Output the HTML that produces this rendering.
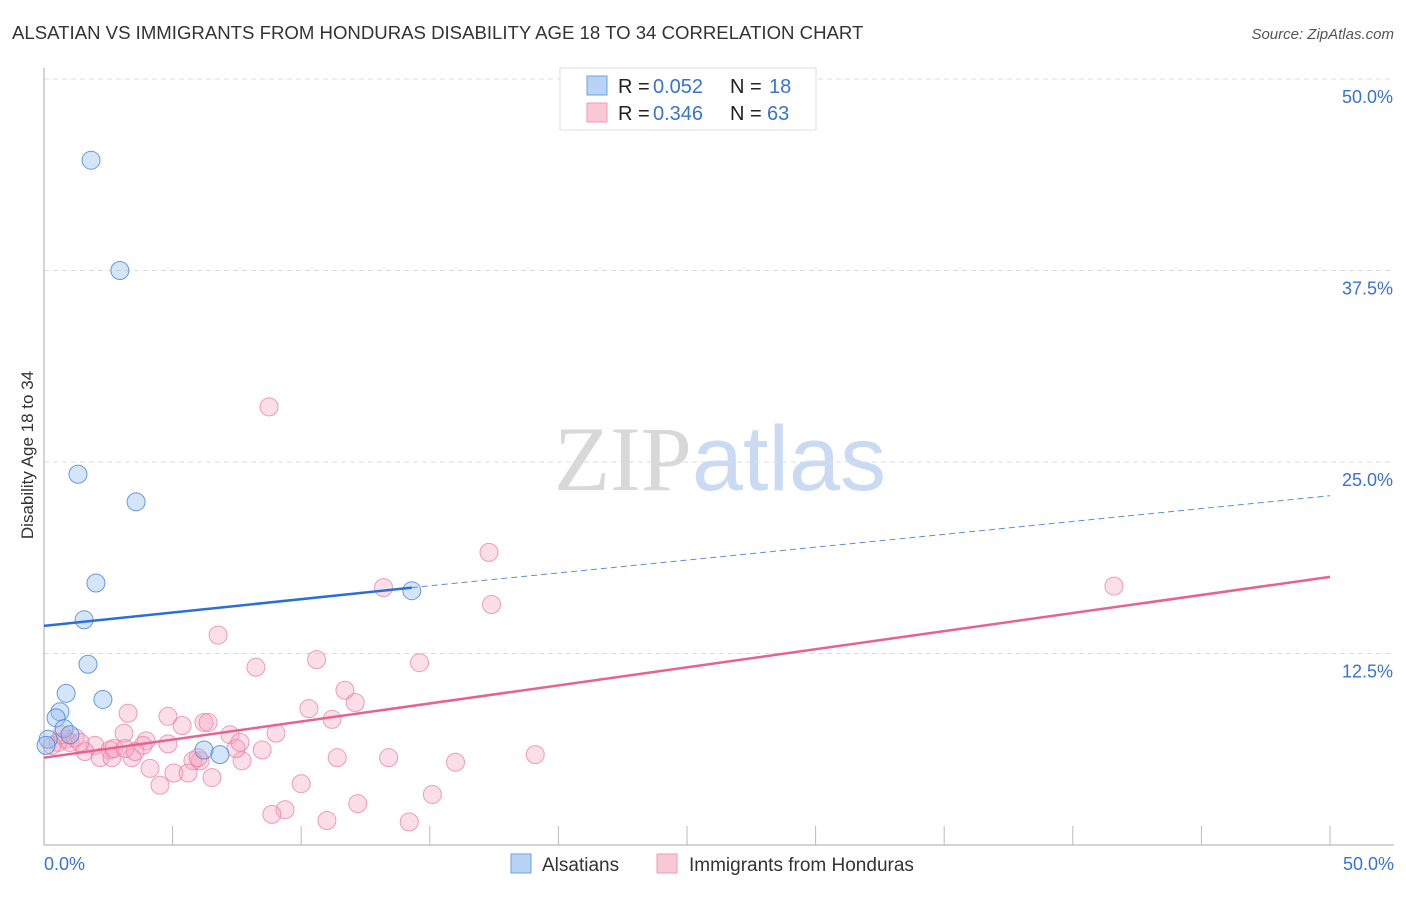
<!DOCTYPE html>
<html><head><meta charset="utf-8"><style>
body{margin:0;background:#fff;font-family:"Liberation Sans",sans-serif}
svg text{font-family:"Liberation Sans",sans-serif}
</style></head><body>
<svg id="chart" width="1406" height="892" viewBox="0 0 1406 892">
<text x="12" y="39" font-size="18.6" fill="#333">ALSATIAN VS IMMIGRANTS FROM HONDURAS DISABILITY AGE 18 TO 34 CORRELATION CHART</text>
<text x="1394" y="39" font-size="15" fill="#555" text-anchor="end" font-style="italic">Source: ZipAtlas.com</text>
<text x="720" y="490" font-size="92" text-anchor="middle"><tspan fill="#d8d8d8" font-family="Liberation Serif">ZIP</tspan><tspan fill="#c9daf2">atlas</tspan></text>
<g id="grid"></g>
<g id="axes"></g>
<g id="marks"></g>
<text transform="translate(33,455) rotate(-90)" font-size="17" fill="#333" text-anchor="middle">Disability Age 18 to 34</text>
<g>
<rect x="560" y="68" width="256" height="62" fill="#fff" stroke="#ddd"/>
<rect x="587" y="76" width="20" height="19" fill="#b8d3f5" stroke="#6fa0e0"/>
<rect x="587" y="103" width="20" height="19" fill="#f9c8d6" stroke="#ee9ab3"/>
<text x="618" y="93" font-size="20" fill="#222">R =</text>
<text x="653" y="93" font-size="20" fill="#3a72d1">0.052</text>
<text x="730" y="93" font-size="20" fill="#222">N =</text>
<text x="769" y="93" font-size="20" fill="#3a72d1">18</text>
<text x="618" y="120" font-size="20" fill="#222">R =</text>
<text x="653" y="120" font-size="20" fill="#3a72d1">0.346</text>
<text x="730" y="120" font-size="20" fill="#222">N =</text>
<text x="767" y="120" font-size="20" fill="#3a72d1">63</text>
</g>
<g>
<rect x="511" y="854" width="20" height="19" fill="#b8d3f5" stroke="#6fa0e0"/>
<text x="542" y="871" font-size="19" fill="#333">Alsatians</text>
<rect x="657" y="854" width="20" height="19" fill="#f9c8d6" stroke="#ee9ab3"/>
<text x="689" y="871" font-size="19" fill="#333">Immigrants from Honduras</text>
</g>
</svg>
<script>
const yTicks=[12.5,25,37.5,50];
const yTickLabels=["12.5%","25.0%","37.5%","50.0%"];
const xTickLabels=["0.0%","50.0%"];
const blueX=[1.83,2.95,1.32,3.58,2.02,1.56,1.71,0.86,0.62,0.47,2.29,0.78,1.01,0.16,0.08,6.22,6.84,14.3];
const blueY=[44.7,37.5,24.2,22.4,17.1,14.7,11.8,9.9,8.7,8.3,9.5,7.6,7.2,6.9,6.5,6.2,5.9,16.6];
const pinkX=[8.75,17.3,13.2,41.6,17.4,6.77,10.6,14.6,8.24,11.7,12.1,10.3,3.27,4.82,5.37,6.22,6.38,11.2,7.23,9.02,3.11,3.97,4.82,3.85,1.98,2.57,1.59,2.18,3.42,2.64,6.07,5.79,7.70,7.47,8.48,11.4,13.4,16.0,19.1,4.12,5.05,5.60,6.53,4.51,10.0,12.2,15.1,9.37,8.86,11.0,14.2,0.86,1.01,0.54,0.31,1.21,1.40,0.70,2.72,3.15,3.54,5.99,7.62];
const pinkY=[28.6,19.1,16.8,16.9,15.7,13.7,12.1,11.9,11.6,10.1,9.3,8.9,8.6,8.4,7.8,8.0,8.0,8.2,7.2,7.3,7.3,6.8,6.6,6.5,6.5,6.2,6.1,5.7,5.7,5.7,5.5,5.5,5.5,6.3,6.2,5.7,5.7,5.4,5.9,5.0,4.7,4.7,4.4,3.9,4.0,2.7,3.3,2.3,2.0,1.6,1.5,6.9,6.7,6.7,6.5,7.0,6.7,7.2,6.3,6.3,6.1,5.7,6.7];
const blueTrend=[[0,14.3],[14.3,16.8],[50,22.8]];
const pinkTrend=[[0,5.7],[50,17.5]];
const NS="http://www.w3.org/2000/svg";
const X=v=>44+v*25.72, Y=v=>845-v*15.32;
function mk(tag,attrs,parent){const e=document.createElementNS(NS,tag);for(const k in attrs)e.setAttribute(k,attrs[k]);document.getElementById(parent).appendChild(e);return e;}
yTicks.forEach((t,i)=>{
 const g=mk('line',{x1:44,x2:1394,y1:Y(t),y2:Y(t),stroke:'#ddd','stroke-dasharray':'5,4'},'grid');
 
 
 const tx=mk('text',{x:1393,y:Y(t)+24,'font-size':18,fill:'#3a72d1','text-anchor':'end'},'grid');
 tx.textContent=yTickLabels[i];
 
 
});
const ax=mk('line',{x1:44,x2:1394,y1:845,y2:845,stroke:'#aaa'},'axes');


const ay=mk('line',{x1:44,x2:44,y1:68,y2:845,stroke:'#aaa'},'axes');


for(let i=1;i<=10;i++){
 const t=mk('line',{x1:X(i*5),x2:X(i*5),y1:826,y2:845,stroke:'#bbb'},'axes');
 
 
}
[[0,'start',44],[50,'end',1394]].forEach((a,i)=>{
 const t=mk('text',{x:a[2],y:870,'font-size':18,fill:'#3a72d1','text-anchor':a[1]},'axes');
 t.textContent=xTickLabels[i];
 
 
});
pinkX.forEach((x,i)=>{
 const c=mk('circle',{cx:X(x),cy:Y(pinkY[i]),r:9,fill:'rgba(246,160,188,0.35)',stroke:'rgba(232,120,155,0.7)','stroke-width':1},'marks');
 
 
});
blueX.forEach((x,i)=>{
 const c=mk('circle',{cx:X(x),cy:Y(blueY[i]),r:9,fill:'rgba(150,190,240,0.4)',stroke:'rgba(70,130,215,0.8)','stroke-width':1},'marks');
 
 
});
const b1=mk('line',{x1:X(blueTrend[0][0]),y1:Y(blueTrend[0][1]),x2:X(blueTrend[1][0]),y2:Y(blueTrend[1][1]),stroke:'#2a6fd6','stroke-width':2.5},'marks');


const b2=mk('line',{x1:X(blueTrend[1][0]),y1:Y(blueTrend[1][1]),x2:X(blueTrend[2][0]),y2:Y(blueTrend[2][1]),stroke:'#5a8fd8','stroke-width':1,'stroke-dasharray':'6,4'},'marks');


const p1=mk('line',{x1:X(pinkTrend[0][0]),y1:Y(pinkTrend[0][1]),x2:X(pinkTrend[1][0]),y2:Y(pinkTrend[1][1]),stroke:'#e8628e','stroke-width':2.5},'marks');


</script>
</body></html>
